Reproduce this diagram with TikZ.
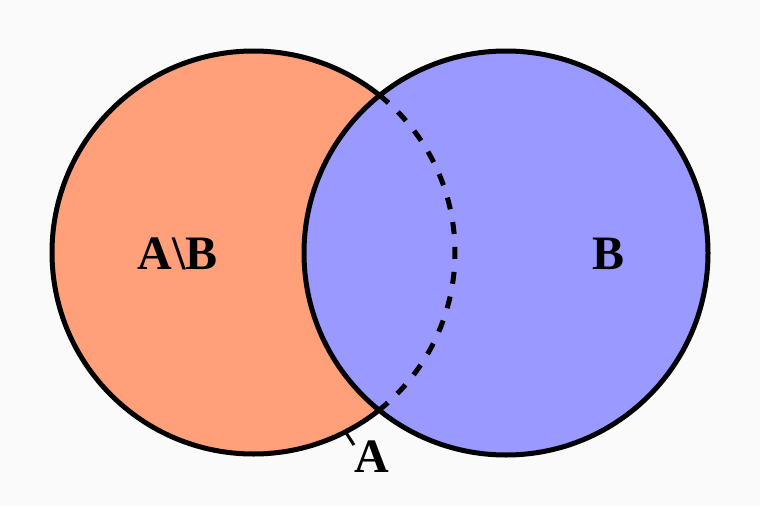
\documentclass[tikz,border=0pt]{standalone}
\usepackage{fontspec}
\setmainfont{Liberation Serif}
\definecolor{bgc}{RGB}{250,250,250}
\definecolor{salmonc}{RGB}{255,160,122}
\definecolor{bluec}{RGB}{153,153,255}
\begin{document}
\begin{tikzpicture}[x=1pt,y=-1pt,
  setcircle/.style={circle, inner sep=0pt, outer sep=0pt, draw=black, line width=5pt},
  setlabel/.style={font=\fontsize{48}{52}\selectfont\bfseries, text=black, inner sep=0pt},
  dasharc/.style={draw=black, line width=5pt, dash pattern=on 12pt off 13pt},
  tickline/.style={draw=black, line width=3pt}]
\useasboundingbox[fill=bgc] (0,0) rectangle (760,506);
\node[setcircle, fill=salmonc, minimum size=403pt] (L) at (253.5,252.5) {};
\node[setcircle, fill=bluec, minimum size=404pt] (R) at (506,253) {};
\draw[dasharc] ([shift={(51.35:201.5pt)}]L.center) arc[start angle=51.35, end angle=-51.35, radius=201.5pt];
\coordinate (t1) at ([shift={(93,181)}]L.center);
\coordinate (t2) at ([shift={(100.5,192.5)}]L.center);
\draw[tickline] (t1) -- (t2);
\node[setlabel] (lab1) at (178,254) {A\textbackslash B};
\node[setlabel] (lab2) at (608,254) {B};
\node[setlabel] (lab3) at (372,457) {A};
\end{tikzpicture}
\end{document}
